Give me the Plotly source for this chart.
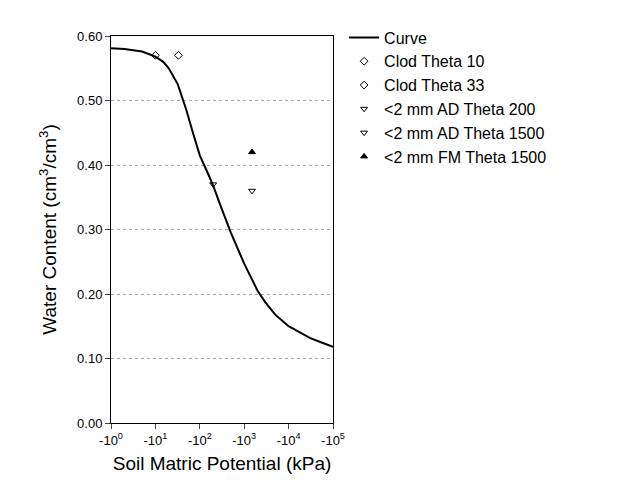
import plotly.graph_objects as go

curve_x = [1, 2, 5, 10, 15, 20, 32, 50, 70, 100, 150, 200, 300, 500, 1000, 2000, 3000, 5000, 10000, 20000, 30000, 50000, 100000]
curve_y = [0.581, 0.580, 0.576, 0.568, 0.560, 0.550, 0.525, 0.485, 0.450, 0.415, 0.388, 0.368, 0.335, 0.295, 0.247, 0.205, 0.187, 0.168, 0.150, 0.138, 0.132, 0.126, 0.118]

pts = [
    ("Clod Theta 10", [10], [0.57], "diamond-open"),
    ("Clod Theta 33", [33], [0.57], "diamond-open"),
    ("<2 mm AD Theta 200", [200], [0.37], "triangle-down-open"),
    ("<2 mm AD Theta 1500", [1500], [0.36], "triangle-down-open"),
    ("<2 mm FM Theta 1500", [1500], [0.42], "triangle-up"),
]
tick_vals = [1, 10, 100, 1000, 10000, 100000]
tick_text = ["-10<sup>%d</sup>" % i for i in range(6)]

fig = go.Figure()
fig.add_trace(go.Scatter(x=curve_x, y=curve_y, mode="lines", name="Curve",
                         line=dict(color="black", width=2)))
for name, xs, ys, sym in pts:
    fig.add_trace(go.Scatter(x=xs, y=ys, mode="markers", name=name,
                             marker=dict(symbol=sym, color="black", size=6,
                                         line=dict(color="black", width=1))))
fig.update_layout(
    width=640, height=480, plot_bgcolor="white", paper_bgcolor="white",
    margin=dict(l=103, r=315, t=24, b=65),
    font=dict(family="Liberation Sans, Arial", size=16, color="black"),
    legend=dict(x=1.05, y=1.04, xanchor="left", yanchor="top", font=dict(size=16),
                bgcolor="rgba(0,0,0,0)", tracegroupgap=0),
    xaxis=dict(type="log", range=[0, 5], tickvals=tick_vals, ticktext=tick_text,
               showgrid=False, showline=True, mirror=True, linecolor="black",
               ticks="outside", ticklen=5, automargin=False,
               title=dict(text="Soil Matric Potential (kPa)", standoff=10),
               tickfont=dict(size=13)),
    yaxis=dict(range=[0, 0.6], dtick=0.1, tickformat=".2f", showgrid=True,
               gridcolor="#aaaaaa", griddash="dot", showline=True, mirror=True,
               linecolor="black", ticks="outside", ticklen=5, zeroline=False,
               automargin=False,
               title=dict(text="Water Content (cm<sup>3</sup>/cm<sup>3</sup>)"),
               tickfont=dict(size=13)),
)
fig.write_html("out.html")
